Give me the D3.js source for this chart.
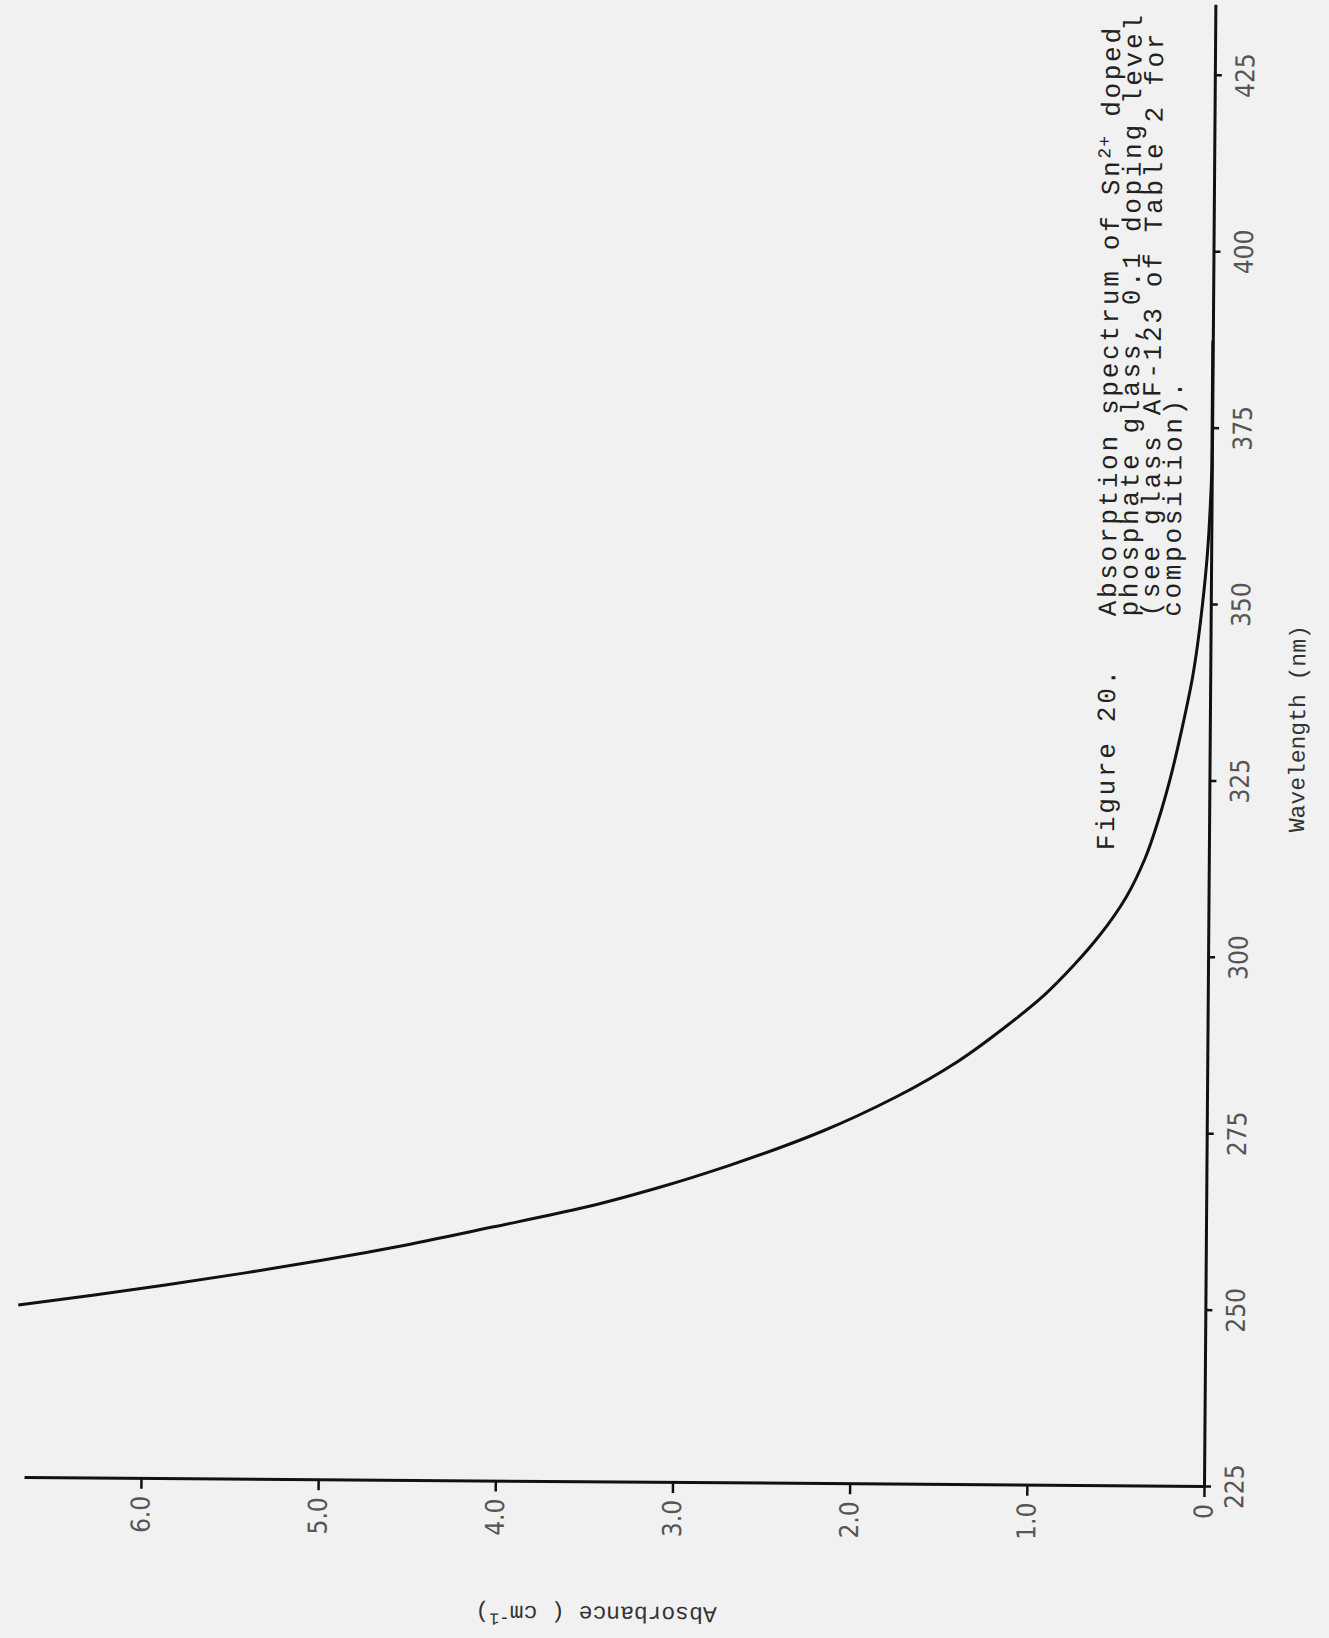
<!DOCTYPE html>
<html>
<head>
<meta charset="utf-8">
<script src="https://cdn.jsdelivr.net/npm/d3@7"></script>
<style>
  body { margin: 0; background: #f1f1f1; }
</style>
</head>
<body>
<div id="chart"></div>
<script>
// values (wavelength in nm, absorbance in cm-1)
const wavelength = [249.5, 251.0, 252.5, 254.3, 256.2, 258.4, 261.1, 264.0, 267.0, 270, 275, 280, 285, 290, 294.6, 299, 303, 308.5, 314, 320, 325, 332.7, 340, 350.5, 357, 364, 370, 387.5]
const absorbance = [6.70, 6.27, 5.87, 5.42, 4.98, 4.52, 4.02, 3.50, 3.07, 2.70, 2.17, 1.75, 1.41, 1.14, 0.92, 0.75, 0.615, 0.465, 0.36, 0.28, 0.225, 0.155, 0.098, 0.045, 0.022, 0.007, 0, 0]

const xTicks = [225, 250, 275, 300, 325, 350, 375, 400, 425]
const yTicks = [0, 1, 2, 3, 4, 5, 6]
const yTickLabels = ["0", "1.0", "2.0", "3.0", "4.0", "5.0", "6.0"]

const xTitle = "Wavelength (nm)"
const captionLead = "Figure 20."
const captionLines = [
    ["Absorption spectrum of Sn", "2+", " doped"],
    ["phosphate glass, 0.1 doping level"],
    ["(see glass AF-123 of Table 2 for"],
    ["composition)."]
]

const pageW = 1329, pageH = 1638
const mono = "'Liberation Mono', 'DejaVu Sans Mono', monospace"
const narrow = "'Liberation Sans Narrow', 'DejaVu Sans Condensed', 'Liberation Sans', sans-serif"

const svg = d3.select("#chart").append("svg")
    .attr("width", pageW)
    .attr("height", pageH)

svg.append("rect")
    .attr("width", pageW)
    .attr("height", pageH)
    .attr("fill", "#f1f1f1")

// the page was scanned sideways: draw the chart normally, then turn it
const g = svg.append("g")
    .attr("transform", "translate(1204,1487) rotate(-89.56)")

const x = d3.scaleLinear().domain([225, 435]).range([0, 1481.8])
const y = d3.scaleLinear().domain([0, 6.66]).range([0, -1180])

const xAxis = g.append("g")
    .call(d3.axisBottom(x).tickValues(xTicks).tickSize(7).tickSizeOuter(0).tickPadding(14))

const yAxis = g.append("g")
    .call(d3.axisLeft(y).tickValues(yTicks).tickSize(10).tickSizeOuter(0).tickPadding(7)
        .tickFormat((d, i) => yTickLabels[i]))

for (const ax of [xAxis, yAxis]) {
    ax.attr("font-family", narrow).attr("font-size", 26)
    ax.select(".domain").attr("stroke", "#111").attr("stroke-width", 3)
    ax.selectAll(".tick line").attr("stroke", "#111").attr("stroke-width", 2.5)
    ax.selectAll(".tick text").attr("fill", "#555")
}

// absorption curve
const line = d3.line()
    .x((d, i) => x(wavelength[i]))
    .y(d => y(d))
    .curve(d3.curveMonotoneX)

g.append("path")
    .datum(absorbance)
    .attr("fill", "none")
    .attr("stroke", "#111")
    .attr("stroke-width", 3)
    .attr("stroke-linejoin", "round")
    .attr("d", line)

// axis titles
g.append("text")
    .attr("x", 759)
    .attr("y", 95)
    .attr("text-anchor", "middle")
    .attr("font-family", mono)
    .attr("font-size", 23)
    .attr("fill", "#333")
    .text(xTitle)

const yTitle = g.append("text")
    .attr("transform", "translate(-124,-607) rotate(-90)")
    .attr("text-anchor", "middle")
    .attr("font-family", mono)
    .attr("font-size", 23)
    .attr("fill", "#333")
yTitle.append("tspan").text("Absorbance ( cm")
yTitle.append("tspan").attr("dy", -8).attr("font-size", 17).text("-1")
yTitle.append("tspan").attr("dy", 8).text(")")

// caption typed on the page (wide typewriter pitch)
const cap = g.append("g")
    .attr("font-family", mono)
    .attr("font-size", 26)
    .attr("letter-spacing", 2.7)
    .attr("fill", "#222")

cap.append("text")
    .attr("x", 636)
    .attr("y", -95)
    .text(captionLead)

captionLines.forEach((parts, i) => {
    const t = cap.append("text")
        .attr("x", 870)
        .attr("y", -95 + i * 21.5)
    t.append("tspan").text(parts[0])
    if (parts.length > 1) {
        t.append("tspan").attr("dy", -9).attr("font-size", 18).attr("letter-spacing", 1).text(parts[1])
        t.append("tspan").attr("dy", 9).text(parts[2])
    }
})
</script>
</body>
</html>
